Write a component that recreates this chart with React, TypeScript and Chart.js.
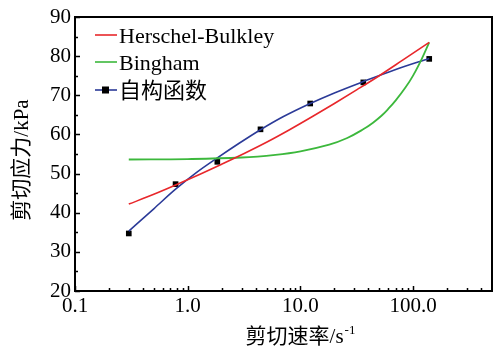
import React, { useEffect, useRef } from 'react';
import { Chart, registerables } from 'chart.js';

Chart.register(...registerables);

// Self-constructed function: measured points (markers)
const pointRate = [0.3, 0.78, 1.83, 4.42, 12.2, 36.1, 138.7];
const pointStress = [34.7, 47.3, 53.0, 61.3, 67.9, 73.3, 79.3];

// Self-constructed function: fitted curve
const selfRate = [0.3, 0.5, 0.78, 1.2, 1.83, 2.88, 4.42, 7, 12.2, 20, 36.1, 70, 138.7];
const selfStress = [35.3, 41.0, 46.0, 50.3, 54.0, 57.8, 61.2, 64.5, 67.9, 70.6, 73.5, 76.6, 79.4];

// Herschel-Bulkley curve
const hbRate = [0.3, 0.5, 0.8, 1.3, 2, 3.2, 5, 8, 13, 20, 32, 50, 80, 138.7];
const hbStress = [42.2, 44.7, 47.2, 49.9, 52.4, 55.2, 58.0, 61.2, 64.7, 67.9, 71.5, 75.0, 78.9, 83.5];

// Bingham curve
const bgRate = [0.3, 1, 3, 6, 10, 18, 26, 36, 44, 52, 60, 70, 85, 100, 120, 138.7];
const bgStress = [53.6, 53.7, 54.1, 54.8, 55.7, 57.4, 59.1, 61.3, 63.0, 64.7, 66.5, 68.7, 71.9, 75.1, 79.5, 83.5];

const xTicks = [0.1, 1, 10, 100];
const xTickLabels = ['0.1', '1.0', '10.0', '100.0'];
const xMinorTicks = [0.2, 0.3, 0.4, 0.5, 0.6, 0.7, 0.8, 0.9, 2, 3, 4, 5, 6, 7, 8, 9, 20, 30, 40, 50, 60, 70, 80, 90, 200, 300, 400];
const yMinorTicks = [25, 35, 45, 55, 65, 75, 85];

const seriesNames = ['Herschel-Bulkley', 'Bingham', '自构函数'];
const xTitle = '剪切速率/s';
const xTitleSup = '-1';
const yTitle = '剪切应力/kPa';

const RED = '#e8272b';
const GREEN = '#3cb83c';
const BLUE = '#2b3a98';
const SERIF = '"Liberation Serif", "Times New Roman", "Noto Sans CJK SC", serif';

const decorPlugin = {
  id: 'decor',
  afterDraw(chart: any) {
    const { ctx, chartArea } = chart;
    const { left, right, top, bottom } = chartArea;
    const xs = chart.scales.x;
    const ys = chart.scales.y;
    ctx.save();
    ctx.strokeStyle = '#000';
    ctx.lineWidth = 2;
    ctx.strokeRect(left, top, right - left, bottom - top);
    ctx.lineWidth = 1.5;
    ctx.beginPath();
    xTicks.forEach((v) => {
      const p = Math.round(xs.getPixelForValue(v)) + 0.5;
      ctx.moveTo(p, bottom);
      ctx.lineTo(p, bottom - 5);
    });
    xMinorTicks.forEach((v) => {
      const p = Math.round(xs.getPixelForValue(v)) + 0.5;
      ctx.moveTo(p, bottom);
      ctx.lineTo(p, bottom - 3);
    });
    ys.ticks.forEach((t: any) => {
      const p = Math.round(ys.getPixelForValue(t.value)) + 0.5;
      ctx.moveTo(left, p);
      ctx.lineTo(left + 5, p);
    });
    yMinorTicks.forEach((v) => {
      const p = Math.round(ys.getPixelForValue(v)) + 0.5;
      ctx.moveTo(left, p);
      ctx.lineTo(left + 3, p);
    });
    ctx.stroke();

    // legend
    const colors = [RED, GREEN, BLUE];
    const rows = [35, 62, 90];
    ctx.font = '22px ' + SERIF;
    ctx.textBaseline = 'middle';
    ctx.textAlign = 'left';
    seriesNames.forEach((name, i) => {
      ctx.strokeStyle = colors[i];
      ctx.lineWidth = 1.6;
      ctx.beginPath();
      ctx.moveTo(95, rows[i]);
      ctx.lineTo(117, rows[i]);
      ctx.stroke();
      if (i === 2) {
        ctx.fillStyle = '#000';
        ctx.fillRect(102, rows[i] - 3.5, 7, 7);
      }
      ctx.fillStyle = '#000';
      ctx.fillText(name, 119, rows[i] + 2);
    });

    // axis titles
    ctx.font = '21px ' + SERIF;
    ctx.textAlign = 'left';
    ctx.textBaseline = 'middle';
    const w = ctx.measureText(xTitle).width;
    ctx.font = '13px ' + SERIF;
    const ws = ctx.measureText(xTitleSup).width;
    const startX = 300 - (w + ws) / 2;
    ctx.font = '21px ' + SERIF;
    ctx.fillText(xTitle, startX, 337);
    ctx.font = '13px ' + SERIF;
    ctx.fillText(xTitleSup, startX + w + 1, 331);

    ctx.save();
    ctx.translate(22, 160);
    ctx.rotate(-Math.PI / 2);
    ctx.font = '21px ' + SERIF;
    ctx.textAlign = 'center';
    ctx.textBaseline = 'middle';
    ctx.fillText(yTitle, 0, 0);
    ctx.restore();
    ctx.restore();
  },
};

export default function App() {
  const ref = useRef<HTMLCanvasElement>(null);
  useEffect(() => {
    document.body.style.margin = '0';
    const canvas = ref.current!;
    const chart = new Chart(canvas, {
      type: 'line',
      data: {
        datasets: [
          {
            label: seriesNames[0],
            data: hbRate.map((x, i) => ({ x, y: hbStress[i] })),
            borderColor: RED,
            borderWidth: 1.6,
            pointRadius: 0,
            cubicInterpolationMode: 'monotone',
          },
          {
            label: seriesNames[1],
            data: bgRate.map((x, i) => ({ x, y: bgStress[i] })),
            borderColor: GREEN,
            borderWidth: 1.8,
            pointRadius: 0,
            tension: 0.4,
          },
          {
            label: seriesNames[2],
            data: selfRate.map((x, i) => ({ x, y: selfStress[i] })),
            borderColor: BLUE,
            borderWidth: 1.6,
            pointRadius: 0,
            cubicInterpolationMode: 'monotone',
          },
          {
            label: seriesNames[2] + ' points',
            data: pointRate.map((x, i) => ({ x, y: pointStress[i] })),
            showLine: false,
            pointStyle: 'rect',
            pointRadius: 4,
            pointBackgroundColor: '#000',
            pointBorderColor: '#000',
            pointBorderWidth: 0,
          },
        ],
      },
      options: {
        animation: false,
        responsive: false,
        layout: { padding: { top: 17, right: 9, left: 0, bottom: 0 } },
        plugins: { legend: { display: false }, tooltip: { enabled: false } },
        scales: {
          x: {
            type: 'logarithmic',
            min: 0.1,
            max: 500,
            afterBuildTicks: (s: any) => {
              s.ticks = xTicks.map((v) => ({ value: v }));
            },
            afterFit: (s: any) => {
              s.height = 59;
            },
            grid: { display: false, drawTicks: false },
            border: { display: false },
            ticks: {
              autoSkip: false,
              maxRotation: 0,
              padding: 3,
              color: '#000',
              font: { family: SERIF, size: 21 },
              callback: (_v: any, i: number) => xTickLabels[i],
            },
          },
          y: {
            min: 20,
            max: 90,
            afterFit: (s: any) => {
              s.width = 75;
            },
            grid: { display: false, drawTicks: false },
            border: { display: false },
            ticks: {
              stepSize: 10,
              padding: 4,
              color: '#000',
              font: { family: SERIF, size: 21 },
            },
          },
        },
      },
      plugins: [decorPlugin],
    });
    return () => chart.destroy();
  }, []);
  return (
    <div style={{ width: 501, height: 350 }}>
      <canvas ref={ref} width={501} height={350} style={{ width: 501, height: 350 }} />
    </div>
  );
}
